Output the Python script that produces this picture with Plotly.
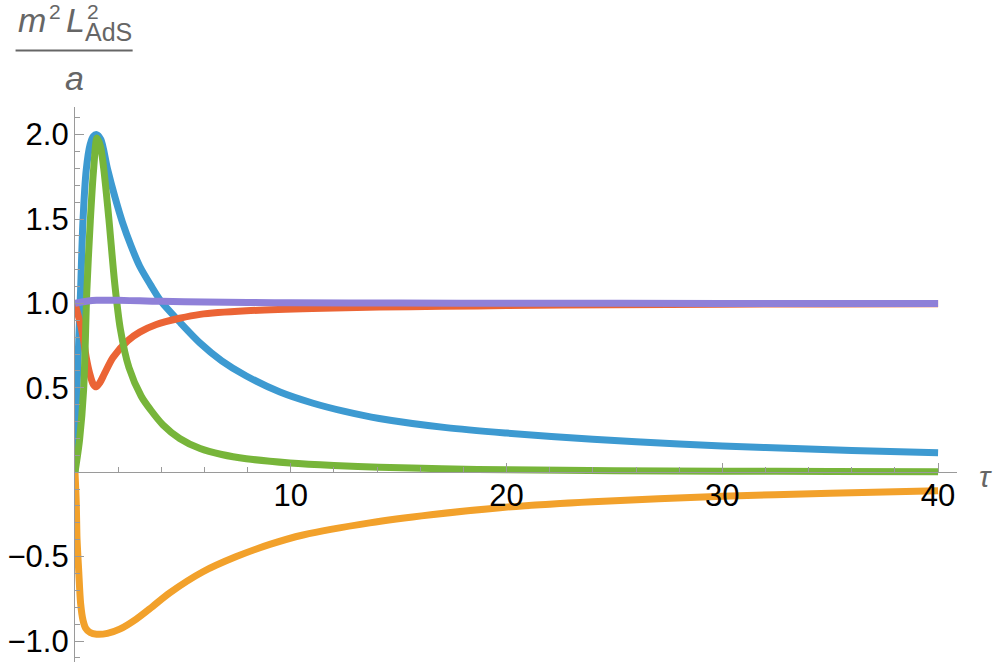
import plotly.graph_objects as go

# ---------------- data ----------------
t_blue = [0, 0.05, 0.1, 0.18, 0.26, 0.37, 0.52, 0.7, 0.85, 1.0, 1.2, 1.5, 1.85, 2.2, 2.6, 3.0,
          3.5, 4.0, 4.85, 5.8, 6.8, 7.94, 9.5, 11.0, 12.5, 14.1, 17.2, 20, 24, 28, 32, 36, 40]
v_blue = [0, 0.27, 0.52, 0.8, 1.08, 1.49, 1.79, 1.94, 1.99, 2.0, 1.97, 1.80, 1.63, 1.48, 1.34, 1.22,
          1.11, 1.01, 0.89, 0.765, 0.66, 0.57, 0.475, 0.41, 0.36, 0.318, 0.264, 0.232, 0.195,
          0.167, 0.146, 0.129, 0.115]

t_orange = [0, 0.06, 0.09, 0.13, 0.17, 0.26, 0.37, 0.5, 0.7, 1.0, 1.5, 2.07, 2.84, 3.6, 4.39,
            5.93, 7.48, 9.03, 10.57, 13.66, 16.5, 19.7, 24, 30, 35, 40]
v_orange = [0, -0.185, -0.38, -0.49, -0.58, -0.777, -0.876, -0.925, -0.95, -0.96, -0.955, -0.93,
            -0.87, -0.795, -0.715, -0.59, -0.5, -0.428, -0.372, -0.30, -0.252, -0.21, -0.175,
            -0.143, -0.124, -0.11]

t_red = [0, 0.1, 0.25, 0.4, 0.52, 0.68, 0.85, 0.99, 1.15, 1.37, 1.76, 2.45, 3.0, 3.77, 4.85,
         5.8, 7.94, 11, 14.1, 17, 20, 25, 30, 35, 40]
v_red = [1.0, 0.95, 0.88, 0.78, 0.68, 0.585, 0.52, 0.506, 0.53, 0.585, 0.68, 0.78, 0.83, 0.875,
         0.912, 0.935, 0.956, 0.97, 0.978, 0.983, 0.987, 0.992, 0.995, 0.997, 0.998]

t_green = [0, 0.06, 0.21, 0.4, 0.55, 0.71, 0.86, 1.02, 1.18, 1.33, 1.57, 1.84, 2.1, 2.5, 3.07,
           3.5, 4.08, 4.85, 5.8, 6.8, 7.94, 9.96, 12, 14.1, 17, 20, 25, 30, 35, 40]
v_green = [0, 0.05, 0.19, 0.49, 1.08, 1.49, 1.79, 1.98, 1.93, 1.80, 1.50, 1.12, 0.85, 0.62, 0.45,
           0.37, 0.28, 0.20, 0.14, 0.105, 0.08, 0.055, 0.04, 0.03, 0.02, 0.014, 0.009, 0.006,
           0.004, 0.003]

t_purple = [0, 0.3, 0.6, 1.0, 1.5, 2.0, 3.0, 4.0, 6.0, 8.0, 10, 15, 20, 30, 40]
v_purple = [1.0, 1.008, 1.014, 1.018, 1.019, 1.018, 1.015, 1.012, 1.008, 1.005, 1.004, 1.002,
            1.001, 1.0, 1.0]

x_tickvals = [10, 20, 30, 40]
x_ticktext = ["10", "20", "30", "40"]
y_tickvals = [-1.0, -0.5, 0.5, 1.0, 1.5, 2.0]
y_ticktext = ["\u22121.0", "\u22120.5", "0.5", "1.0", "1.5", "2.0"]

# ---------------- layout geometry ----------------
W, H = 997, 667
L, R, T, B = 75.4, 956.7, 107, 662
X_MIN, X_MAX = 0, (R - L) / 21.56
Y_PER = 168.8
Y0_PX = 472.2
Y_MAX = (Y0_PX - T) / Y_PER
Y_MIN = -(B - Y0_PX) / Y_PER


def px_x(px):
    return (px - L) / (R - L)


def px_y(py):
    return (B - py) / (B - T)


colors = {
    "blue": "#3d9ad1",
    "orange": "#f2a12b",
    "red": "#eb6435",
    "green": "#77b53a",
    "purple": "#8f80d8",
}

fig = go.Figure()
series = [
    (t_blue, v_blue, "blue"),
    (t_orange, v_orange, "orange"),
    (t_red, v_red, "red"),
    (t_green, v_green, "green"),
    (t_purple, v_purple, "purple"),
]
for tx, vy, c in series:
    fig.add_trace(go.Scatter(x=tx, y=vy, mode="lines",
                             line=dict(color=colors[c], width=7, shape="spline", smoothing=0.8),
                             showlegend=False, hoverinfo="skip", cliponaxis=False))

axis_grey = "#9a9a9a"
label_grey = "#666666"
font_family = "Liberation Sans, Arial, sans-serif"

fig.update_layout(
    width=W, height=H,
    margin=dict(l=L, r=W - R, t=T, b=H - B, pad=0, autoexpand=False),
    paper_bgcolor="white", plot_bgcolor="white",
    font=dict(family=font_family, size=31, color="black"),
    xaxis=dict(
        range=[X_MIN, X_MAX], showgrid=False, zeroline=False, automargin=False,
        showline=True, linecolor=axis_grey, linewidth=1.2,
        anchor="free", position=(0 - Y_MIN) / (Y_MAX - Y_MIN),
        tickmode="array", tickvals=x_tickvals, ticktext=x_ticktext,
        ticks="inside", ticklen=9, tickwidth=1.2, tickcolor=axis_grey,
        ticklabelstandoff=-5,
        minor=dict(tickmode="linear", tick0=0, dtick=2, ticks="inside", ticklen=5,
                   tickwidth=1, tickcolor=axis_grey),
        tickfont=dict(size=31, color="black", family=font_family),
    ),
    yaxis=dict(
        range=[Y_MIN, Y_MAX], showgrid=False, zeroline=False, automargin=False,
        showline=True, linecolor=axis_grey, linewidth=1.2,
        tickmode="array", tickvals=y_tickvals, ticktext=y_ticktext,
        ticks="inside", ticklen=9, tickwidth=1.2, tickcolor=axis_grey,
        ticklabelstandoff=-1,
        minor=dict(tickmode="linear", tick0=0, dtick=0.1, ticks="inside", ticklen=5,
                   tickwidth=1, tickcolor=axis_grey),
        tickfont=dict(size=31, color="black", family=font_family),
    ),
)


def label(text, x, y, size, xanchor="left", yanchor="middle"):
    return dict(text=text, x=px_x(x), y=px_y(y), xref="paper", yref="paper",
                showarrow=False, xanchor=xanchor, yanchor=yanchor,
                font=dict(size=size, color=label_grey, family=font_family))


ann = [
    label("<i>\u03c4</i>", 985, 476, 30, xanchor="center"),
    label("<i>m</i>", 16, 20, 34),
    label("2", 47, 12, 21),
    label("<i>L</i>", 64, 20, 34),
    label("2", 85, 11, 21),
    label("AdS", 83, 32, 25),
    label("<i>a</i>", 75, 78, 34, xanchor="center"),
]
fig.update_layout(annotations=ann)

fig.add_shape(type="line", xref="paper", yref="paper",
              x0=px_x(16), x1=px_x(133), y0=px_y(50.5), y1=px_y(50.5),
              line=dict(color=label_grey, width=2.2))

fig.write_html("out.html", config={"displayModeBar": False},
               post_script="document.body.style.margin='0';")
